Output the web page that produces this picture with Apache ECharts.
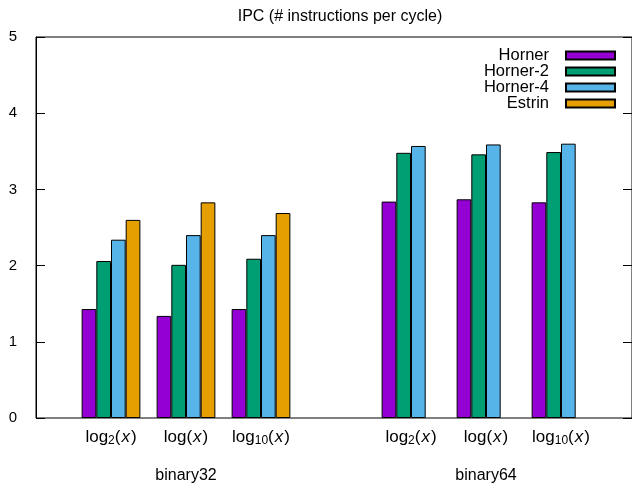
<!DOCTYPE html>
<html>
<head>
<meta charset="utf-8">
<script src="https://cdn.jsdelivr.net/npm/echarts@6/dist/echarts.min.js"></script>
<style>html,body{margin:0;padding:0;background:#fff}#c{width:632px;height:489px}</style>
</head>
<body>
<div id="c"></div>
<script>
const titleText = 'IPC (# instructions per cycle)';
const funcs = ['log2', 'log', 'log10'];
const groups = ['binary32', 'binary64'];
const seriesNames = ['Horner', 'Horner-2', 'Horner-4', 'Estrin'];
const colors = ['#9400D3', '#009E73', '#56B4E9', '#E69F00'];
const horner32 = [1.43, 1.34, 1.43];
const horner2_32 = [2.06, 2.01, 2.09];
const horner4_32 = [2.34, 2.40, 2.40];
const estrin32 = [2.60, 2.83, 2.69];
const horner64 = [2.84, 2.87, 2.83];
const horner2_64 = [3.48, 3.46, 3.49];
const horner4_64 = [3.57, 3.59, 3.60];
const estrin64 = [null, null, null];
const yTicks = [0, 1, 2, 3, 4, 5];

const FONT = 'Liberation Sans';
// categories: blank slot, group32 funcs, blank slot, group64 funcs
const categories = [''].concat(funcs, [''], funcs);
const groupCats = categories.map((c, i) => (i === 2 ? groups[0] : i === 6 ? groups[1] : ''));
const richMap = {
  log2: '{t|log}{s|2}{t|(}{i|x}{t|)}',
  log: '{t|log(}{i|x}{t|)}',
  log10: '{t|log}{s|10}{t|(}{i|x}{t|)}'
};
function mk(a, b) { return [null].concat(a, [null], b); }
const seriesData = [mk(horner32, horner64), mk(horner2_32, horner2_64), mk(horner4_32, horner4_64), mk(estrin32, estrin64)];

const chart = echarts.init(document.getElementById('c'), null, {renderer: 'canvas'});
chart.setOption({
  animation: false,
  backgroundColor: '#fff',
  textStyle: {fontFamily: FONT},
  title: {
    text: titleText, left: 335, top: 4, textAlign: 'center',
    textStyle: {fontFamily: FONT, fontSize: 16, fontWeight: 'normal', color: '#000'}
  },
  legend: {
    orient: 'vertical', align: 'right', right: 16, top: 47, padding: 0,
    itemWidth: 49, itemHeight: 8, itemGap: -1,
    icon: 'rect',
    data: seriesNames,
    textStyle: {fontFamily: FONT, fontSize: 16.5, color: '#000', lineHeight: 15, padding: [0, 12, 0, 0]}
  },
  grid: [
    {left: 36, right: -1, top: 37, bottom: 71, show: true, borderColor: '#000', borderWidth: 1, containLabel: false},
    {left: 36, right: 71, top: 37, bottom: 71, containLabel: false}
  ],
  xAxis: [
    {type: 'value', gridIndex: 0, min: 0, max: 1, show: false},
    {
      type: 'category', gridIndex: 1, data: categories, boundaryGap: false,
      axisLine: {show: false}, axisTick: {show: false},
      axisLabel: {
        interval: 0, margin: 9, color: '#000',
        formatter: v => richMap[v] || '',
        rich: {
          t: {fontFamily: FONT, fontSize: 17, color: '#000', lineHeight: 20, verticalAlign: 'middle'},
          i: {fontFamily: FONT, fontSize: 17, fontStyle: 'italic', color: '#000', lineHeight: 20, padding: [0, 1, 0, 1], verticalAlign: 'middle'},
          s: {fontFamily: FONT, fontSize: 12, color: '#000', lineHeight: 6, verticalAlign: 'bottom'}
        }
      }
    },
    {
      type: 'category', gridIndex: 1, data: groupCats, boundaryGap: false, position: 'bottom',
      axisLine: {show: false}, axisTick: {show: false},
      axisLabel: {interval: 0, margin: 50, color: '#000', fontFamily: FONT, fontSize: 16}
    }
  ],
  yAxis: [
    {
      type: 'value', gridIndex: 0, min: yTicks[0], max: yTicks[yTicks.length - 1], interval: 1,
      axisLine: {show: true, lineStyle: {color: '#000'}},
      axisTick: {show: true, inside: true, length: 9, lineStyle: {color: '#000'}},
      splitLine: {show: false},
      axisLabel: {margin: 19, color: '#000', fontFamily: FONT, fontSize: 15}
    },
    {
      type: 'value', gridIndex: 0, position: 'right', min: yTicks[0], max: yTicks[yTicks.length - 1], interval: 1,
      axisLine: {show: true, lineStyle: {color: '#000'}},
      axisTick: {show: true, inside: true, length: 9, lineStyle: {color: '#000'}},
      splitLine: {show: false}, axisLabel: {show: false}
    },
    {type: 'value', gridIndex: 1, min: yTicks[0], max: yTicks[yTicks.length - 1], show: false}
  ],
  series: seriesNames.map((name, k) => ({
    name, type: 'bar', xAxisIndex: 1, yAxisIndex: 2,
    data: seriesData[k], clip: false,
    barGap: 0, barCategoryGap: '21.7%',
    itemStyle: {color: colors[k], borderColor: '#000', borderWidth: 1}
  }))
});
</script>
</body>
</html>
